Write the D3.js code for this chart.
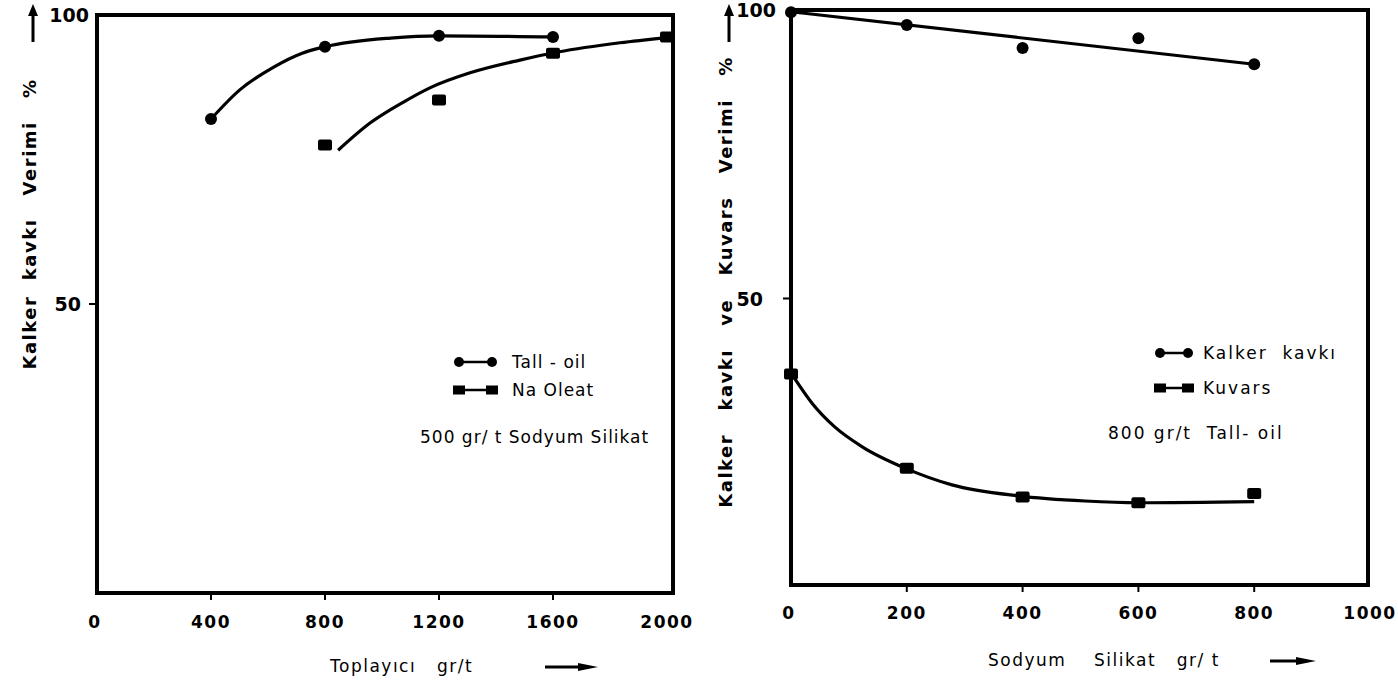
<!DOCTYPE html>
<html>
<head>
<meta charset="utf-8">
<script src="https://cdn.jsdelivr.net/npm/d3@7"></script>
<style>
  body { margin: 0; background: #fff; }
  text { font-family: "DejaVu Sans", sans-serif; fill: #000; white-space: pre; }
</style>
</head>
<body>
<script>
const width = 1398, height = 690;

// left panel: Toplayıcı gr/t vs verim %
const leftTicksX = [0, 400, 800, 1200, 1600, 2000];
const leftTicksY = [50, 100];
const tallOil = [[400, 82], [800, 94.5], [1200, 96.4], [1600, 96.2]];
const tallOilFit = [[400, 82], [500, 87], [620, 91], [720, 93.4], [800, 94.5], [1030, 96], [1200, 96.4], [1600, 96.2]];
const naOleat = [[800, 77.5], [1200, 85.3], [1600, 93.4], [2000, 96.2]];
const naOleatFit = [[846, 76.6], [958, 81.3], [1074, 84.9], [1168, 87.4], [1309, 90], [1484, 92.2], [1618, 93.6], [1835, 95.2], [2000, 96.1]];

// right panel: Sodyum Silikat gr/t vs verim %
const rightTicksX = [0, 200, 400, 600, 800, 1000];
const rightTicksY = [50, 100];
const kalker = [[0, 99.6], [200, 97.4], [400, 93.4], [600, 95.1], [800, 90.6]];
const kalkerFit = [[0, 99.7], [800, 90.6]];
const kuvars = [[0, 36.9], [200, 20.6], [400, 15.6], [600, 14.6], [800, 16.2]];
const kuvarsFit = [[0, 37.1], [36, 31.9], [76, 27.7], [123, 24.3], [197, 20.6], [278, 17.7], [392, 15.8], [508, 14.9], [600, 14.6], [800, 14.8]];

const svg = d3.select("body").append("svg")
    .attr("width", width)
    .attr("height", height);

function arrowUp(x, y1, y2) {
  svg.append("line").attr("x1", x).attr("x2", x).attr("y1", y1).attr("y2", y2 + 8)
      .attr("stroke", "#000").attr("stroke-width", 3);
  svg.append("path").attr("d", `M${x - 5},${y2 + 12}L${x},${y2}L${x + 5},${y2 + 12}Z`);
}

function arrowRight(x1, x2, y) {
  svg.append("line").attr("x1", x1).attr("x2", x2 - 10).attr("y1", y).attr("y2", y)
      .attr("stroke", "#000").attr("stroke-width", 3);
  svg.append("path").attr("d", `M${x2 - 20},${y - 4}L${x2},${y}L${x2 - 20},${y + 4}Z`);
}

function panel(o) {
  const g = svg.append("g");
  const x = o.x, y = o.y;
  const left = x.range()[0];

  g.append("rect")
      .attr("x", left).attr("y", o.top)
      .attr("width", o.right - left).attr("height", o.bottom - o.top)
      .attr("fill", "none").attr("stroke", "#000").attr("stroke-width", 4);

  // ticks
  g.selectAll(".xt").data(o.ticksX.slice(1, -1)).join("line")
      .attr("x1", d => x(d)).attr("x2", d => x(d))
      .attr("y1", o.bottom).attr("y2", o.bottom + 7)
      .attr("stroke", "#000").attr("stroke-width", 2);
  g.selectAll(".yt").data(o.ticksY.slice(0, -1)).join("line")
      .attr("x1", left - 8).attr("x2", left)
      .attr("y1", d => y(d)).attr("y2", d => y(d))
      .attr("stroke", "#000").attr("stroke-width", 2);

  g.selectAll(".xl").data(o.ticksX).join("text")
      .attr("x", d => x(d) + (d === 0 ? -2 : 0)).attr("y", o.xLabelY)
      .attr("text-anchor", "middle").attr("dominant-baseline", "central")
      .attr("font-size", 17).attr("font-weight", "bold").attr("letter-spacing", 1.5)
      .text(d => d);
  g.selectAll(".yl").data(o.ticksY).join("text")
      .attr("x", d => o.yLabelX(d)).attr("y", d => y(d))
      .attr("text-anchor", "end").attr("dominant-baseline", "central")
      .attr("font-size", 19).attr("font-weight", "bold")
      .text(d => d);

  const line = d3.line().x(d => x(d[0])).y(d => y(d[1]));

  o.curves.forEach(c => {
    g.append("path").datum(c.data)
        .attr("d", line.curve(c.curve))
        .attr("fill", "none").attr("stroke", "#000").attr("stroke-width", 3.2);
  });

  o.circles.forEach(s => {
    g.selectAll(null).data(s).join("circle")
        .attr("cx", d => x(d[0])).attr("cy", d => y(d[1])).attr("r", 6);
  });
  o.squares.forEach(s => {
    g.selectAll(null).data(s).join("rect")
        .attr("x", d => x(d[0]) - 7).attr("y", d => y(d[1]) - 5.5)
        .attr("width", 14).attr("height", 11).attr("rx", 2);
  });

  // legend
  const lg = o.legend;
  lg.items.forEach((it, i) => {
    const ly = lg.y + i * lg.dy;
    g.append("line").attr("x1", lg.x1).attr("x2", lg.x2).attr("y1", ly).attr("y2", ly)
        .attr("stroke", "#000").attr("stroke-width", 2.5);
    [lg.x1, lg.x2].forEach(mx => {
      if (it.mark === "circle") {
        g.append("circle").attr("cx", mx).attr("cy", ly).attr("r", 5);
      } else {
        g.append("rect").attr("x", mx - 6).attr("y", ly - 4.5).attr("width", 12).attr("height", 9);
      }
    });
    g.append("text").attr("x", lg.textX).attr("y", ly)
        .attr("dominant-baseline", "central").attr("font-size", 17)
        .attr("letter-spacing", lg.spacing)
        .text(it.label);
  });
  g.append("text").attr("x", lg.noteX).attr("y", lg.noteY)
      .attr("dominant-baseline", "central").attr("font-size", 17)
      .attr("letter-spacing", lg.spacing)
      .text(lg.note);

  // axis titles
  g.append("text")
      .attr("transform", `translate(${o.yTitle.x},${o.yTitle.y}) rotate(-90)`)
      .attr("text-anchor", "middle").attr("dominant-baseline", "central")
      .attr("font-size", 18).attr("font-weight", "bold").attr("letter-spacing", 1.5)
      .text(o.yTitle.text);
  arrowUp(o.yTitle.x + 4, o.yTitle.arrowBottom, o.yTitle.arrowTop);

  g.append("text").attr("x", o.xTitle.x).attr("y", o.xTitle.y)
      .attr("dominant-baseline", "central").attr("font-size", 17)
      .attr("letter-spacing", 1.5)
      .text(o.xTitle.text);
  arrowRight(o.xTitle.arrow[0], o.xTitle.arrow[1], o.xTitle.y + 1);
}

panel({
  x: d3.scaleLinear().domain([0, 2000]).range([97, 667]),
  y: d3.scaleLinear().domain([0, 100]).range([593, 15]),
  top: 15, bottom: 593, right: 673,
  ticksX: leftTicksX, ticksY: leftTicksY,
  xLabelY: 622,
  yLabelX: d => d === 100 ? 89 : 81,
  curves: [
    {data: tallOilFit, curve: d3.curveMonotoneX},
    {data: naOleatFit, curve: d3.curveMonotoneX}
  ],
  circles: [tallOil],
  squares: [naOleat],
  legend: {
    x1: 459, x2: 492, y: 362, dy: 28, textX: 512, spacing: 1,
    items: [{mark: "circle", label: "Tall - oil"}, {mark: "square", label: "Na Oleat"}],
    note: "500 gr/ t Sodyum Silikat", noteX: 420, noteY: 437
  },
  yTitle: {text: "Kalker  kavkı   Verimi   %", x: 29, y: 224, arrowTop: 4, arrowBottom: 42},
  xTitle: {text: "Toplayıcı   gr/t", x: 330, y: 666, arrow: [545, 598]}
});

panel({
  x: d3.scaleLinear().domain([0, 1000]).range([791, 1370]),
  y: d3.scaleLinear().domain([0, 100]).range([587, 10]),
  top: 10, bottom: 585, right: 1368,
  ticksX: rightTicksX, ticksY: rightTicksY,
  xLabelY: 613,
  yLabelX: d => d === 100 ? 776 : 763,
  curves: [
    {data: kalkerFit, curve: d3.curveLinear},
    {data: kuvarsFit, curve: d3.curveMonotoneX}
  ],
  circles: [kalker],
  squares: [kuvars],
  legend: {
    x1: 1160, x2: 1188, y: 353, dy: 35, textX: 1203, spacing: 2,
    items: [{mark: "circle", label: "Kalker  kavkı"}, {mark: "square", label: "Kuvars"}],
    note: "800 gr/t  Tall- oil", noteX: 1108, noteY: 433
  },
  yTitle: {text: "Kalker   kavkı   ve   Kuvars   Verimi   %", x: 725, y: 282, arrowTop: 4, arrowBottom: 42},
  xTitle: {text: "Sodyum    Silikat   gr/ t", x: 988, y: 660, arrow: [1270, 1316]}
});
</script>
</body>
</html>
